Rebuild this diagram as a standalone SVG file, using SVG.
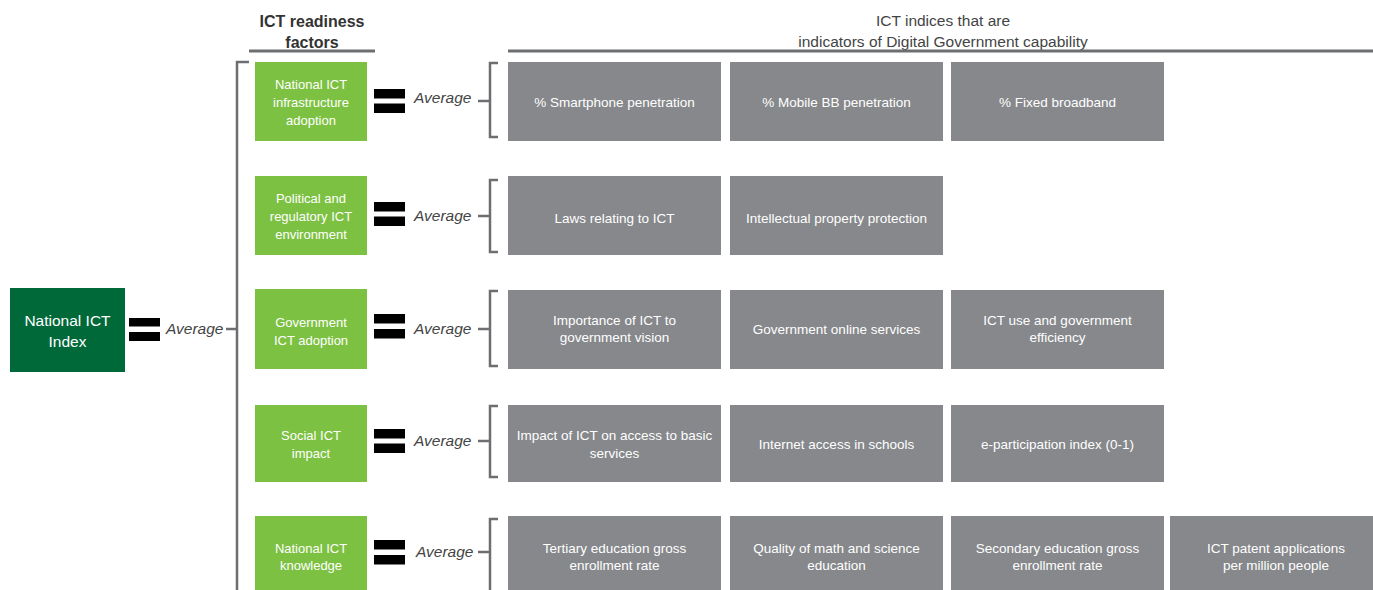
<svg xmlns="http://www.w3.org/2000/svg" width="1373" height="590" viewBox="0 0 1373 590">
<style>
.hdr{font-family:"Liberation Sans",Arial,sans-serif;font-size:16px;fill:#333;text-anchor:middle}
.hdr2{font-family:"Liberation Sans",Arial,sans-serif;font-size:15.5px;fill:#444;text-anchor:middle}
.g{fill:#7DC142}
.gt{font-family:"Liberation Sans",Arial,sans-serif;font-size:13px;fill:#fff;text-anchor:middle}
.b{fill:#86888B}
.bt{font-family:"Liberation Sans",Arial,sans-serif;font-size:13.5px;fill:#fff;text-anchor:middle}
.avg{font-family:"Liberation Sans",Arial,sans-serif;font-size:15.5px;font-style:italic;fill:#444}
.ln{fill:none;stroke:#6D6E71;stroke-width:2.5}
.hl{fill:none;stroke:#6D6E71;stroke-width:3}
.eq{fill:#000}
</style>
<g id="headers">
<text class="hdr" x="312" y="27" font-weight="bold">ICT readiness</text>
<text class="hdr" x="312" y="48" font-weight="bold">factors</text>
<line class="hl" x1="249" y1="51" x2="375" y2="51"/>
<text class="hdr2" x="943" y="26">ICT indices that are</text>
<text class="hdr2" x="943" y="47">indicators of Digital Government capability</text>
<line class="hl" x1="508" y1="51" x2="1373" y2="51"/>
</g>
<g id="connectors">
<path class="ln" d="M249,62 H237 V590 M226,329 H237"/>
<path class="ln" d="M498,63 H490 V137 H498 M478,101 H490"/>
<path class="ln" d="M498,180 H490 V252 H498 M478,216 H490"/>
<path class="ln" d="M498,291 H490 V366 H498 M478,329 H490"/>
<path class="ln" d="M498,406 H490 V477 H498 M478,441 H490"/>
<path class="ln" d="M498,519 H490 V590 M478,552 H490"/>
</g>
<g id="national-ict-index">
<rect x="10" y="288" width="115" height="84" fill="#00693A"/>
<text class="gt" style="font-size:15.5px" x="67.5" y="326">National ICT</text>
<text class="gt" style="font-size:15.5px" x="67.5" y="347">Index</text>
<rect class="eq" x="129" y="318" width="31" height="8.5"/>
<rect class="eq" x="129" y="332" width="31" height="9"/>
<text class="avg" x="166" y="334">Average</text>
</g>
<g id="row1">
<rect class="g" x="255" y="62" width="112" height="79"/>
<text class="gt" x="311" y="89">National ICT</text>
<text class="gt" x="311" y="107">infrastructure</text>
<text class="gt" x="311" y="125">adoption</text>
<rect class="eq" x="374" y="89" width="31" height="9.5"/>
<rect class="eq" x="374" y="103.5" width="31" height="9.5"/>
<text class="avg" x="414" y="103">Average</text>
<rect class="b" x="508" y="62" width="213" height="79"/>
<text class="bt" x="614.5" y="107">% Smartphone penetration</text>
<rect class="b" x="730" y="62" width="213" height="79"/>
<text class="bt" x="836.5" y="107">% Mobile BB penetration</text>
<rect class="b" x="951" y="62" width="213" height="79"/>
<text class="bt" x="1057.5" y="107">% Fixed broadband</text>
</g>
<g id="row2">
<rect class="g" x="255" y="176" width="112" height="79"/>
<text class="gt" x="311" y="203">Political and</text>
<text class="gt" x="311" y="221">regulatory ICT</text>
<text class="gt" x="311" y="239">environment</text>
<rect class="eq" x="374" y="202" width="31" height="9.5"/>
<rect class="eq" x="374" y="216.5" width="31" height="9.5"/>
<text class="avg" x="414" y="221">Average</text>
<rect class="b" x="508" y="176" width="213" height="79"/>
<text class="bt" x="614.5" y="223">Laws relating to ICT</text>
<rect class="b" x="730" y="176" width="213" height="79"/>
<text class="bt" x="836.5" y="223">Intellectual property protection</text>
</g>
<g id="row3">
<rect class="g" x="255" y="289" width="112" height="80"/>
<text class="gt" x="311" y="327">Government</text>
<text class="gt" x="311" y="345">ICT adoption</text>
<rect class="eq" x="374" y="314" width="31" height="9.5"/>
<rect class="eq" x="374" y="329" width="31" height="9.5"/>
<text class="avg" x="414" y="334">Average</text>
<rect class="b" x="508" y="290" width="213" height="79"/>
<text class="bt" x="614.5" y="325">Importance of ICT to</text>
<text class="bt" x="614.5" y="342">government vision</text>
<rect class="b" x="730" y="290" width="213" height="79"/>
<text class="bt" x="836.5" y="334">Government online services</text>
<rect class="b" x="951" y="290" width="213" height="79"/>
<text class="bt" x="1057.5" y="325">ICT use and government</text>
<text class="bt" x="1057.5" y="342">efficiency</text>
</g>
<g id="row4">
<rect class="g" x="255" y="405" width="112" height="77"/>
<text class="gt" x="311" y="440">Social ICT</text>
<text class="gt" x="311" y="458">impact</text>
<rect class="eq" x="374" y="429" width="31" height="9.5"/>
<rect class="eq" x="374" y="443.5" width="31" height="9.5"/>
<text class="avg" x="414" y="446">Average</text>
<rect class="b" x="508" y="405" width="213" height="77"/>
<text class="bt" x="614.5" y="440">Impact of ICT on access to basic</text>
<text class="bt" x="614.5" y="458">services</text>
<rect class="b" x="730" y="405" width="213" height="77"/>
<text class="bt" x="836.5" y="449">Internet access in schools</text>
<rect class="b" x="951" y="405" width="213" height="77"/>
<text class="bt" x="1057.5" y="449">e-participation index (0-1)</text>
</g>
<g id="row5">
<rect class="g" x="255" y="516" width="112" height="74"/>
<text class="gt" x="311" y="553">National ICT</text>
<text class="gt" x="311" y="570">knowledge</text>
<rect class="eq" x="374" y="540" width="31" height="9.5"/>
<rect class="eq" x="374" y="555" width="31" height="9.5"/>
<text class="avg" x="416" y="557">Average</text>
<rect class="b" x="508" y="516" width="213" height="74"/>
<text class="bt" x="614.5" y="553">Tertiary education gross</text>
<text class="bt" x="614.5" y="570">enrollment rate</text>
<rect class="b" x="730" y="516" width="213" height="74"/>
<text class="bt" x="836.5" y="553">Quality of math and science</text>
<text class="bt" x="836.5" y="570">education</text>
<rect class="b" x="951" y="516" width="213" height="74"/>
<text class="bt" x="1057.5" y="553">Secondary education gross</text>
<text class="bt" x="1057.5" y="570">enrollment rate</text>
<rect class="b" x="1170" y="516" width="203" height="74"/>
<text class="bt" x="1276" y="553">ICT patent applications</text>
<text class="bt" x="1276" y="570">per million people</text>
</g>
</svg>
